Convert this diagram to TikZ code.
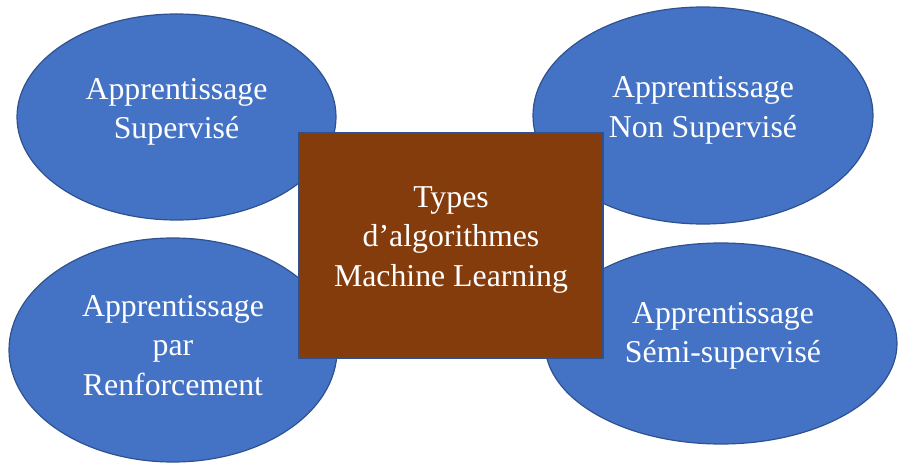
\documentclass[tikz,border=0pt]{standalone}
\usepackage{fontspec}
\setmainfont{Liberation Serif}
\usetikzlibrary{shapes.geometric}
\definecolor{ovalfill}{HTML}{4472C4}
\definecolor{ovalline}{HTML}{2F528F}
\definecolor{boxfill}{HTML}{843C0C}
\tikzset{
  oval/.style={ellipse, draw=ovalline, fill=ovalfill, line width=1.2pt, inner sep=0pt},
  centrebox/.style={rectangle, draw=ovalline, fill=boxfill, line width=1.2pt, inner sep=0pt},
  label text/.style={text=white, align=center, inner sep=0pt,
    font=\fontsize{31.8}{39.5}\selectfont}
}
\begin{document}
\begin{tikzpicture}[x=1pt,y=-1pt]
  \useasboundingbox (0,0) rectangle (898,465);
  % the four learning families
  \node[oval, minimum width=319pt, minimum height=206pt] (sup) at (176.5,117) {};
  \node[oval, minimum width=340pt, minimum height=217pt] (nonsup) at (703,115.5) {};
  \node[oval, minimum width=328pt, minimum height=224pt] (renf) at (173,350) {};
  \node[oval, minimum width=352pt, minimum height=201pt] (semi) at (721,343.5) {};
  % central box
  \node[centrebox, minimum width=304pt, minimum height=225pt] (types) at (451,245.5) {};
  % labels
  \node[label text] (supT) at (176.5,112) {Apprentissage\\Supervisé};
  \node[label text] (nonsupT) at (703,110.5) {Apprentissage\\Non Supervisé};
  \node[label text] (renfT) at (173,345.5) {Apprentissage\\par\\Renforcement};
  \node[label text] (semiT) at (723,336) {Apprentissage\\Sémi-supervisé};
  \node[label text] (typesT) at (451,240) {Types\\d’algorithmes\\Machine Learning};
\end{tikzpicture}
\end{document}
